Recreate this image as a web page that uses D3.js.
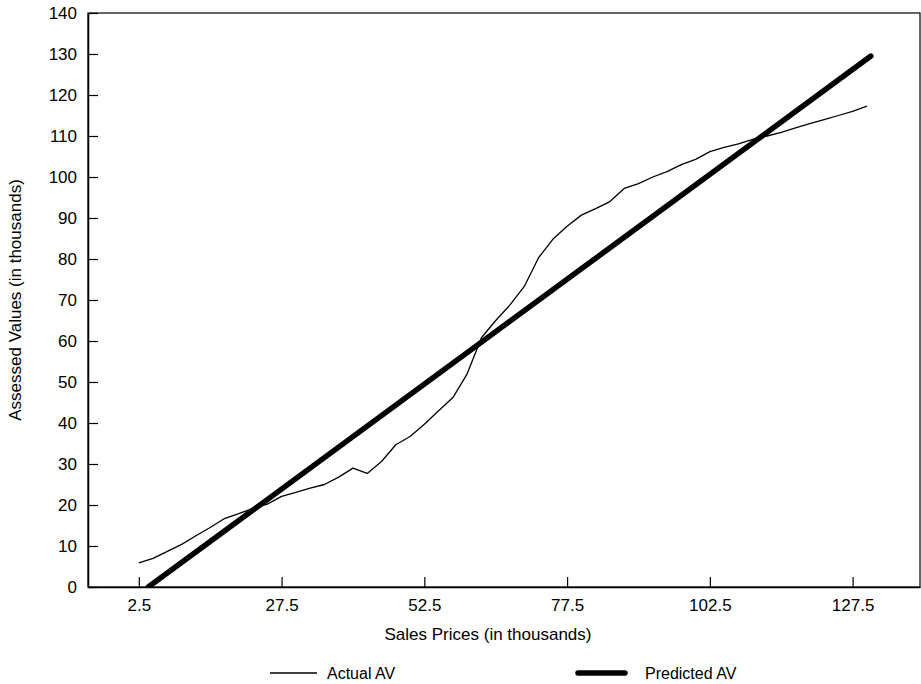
<!DOCTYPE html>
<html>
<head>
<meta charset="utf-8">
<script src="https://cdn.jsdelivr.net/npm/d3@7"></script>
<style>
  body { margin: 0; background: #fff; }
  svg { display: block; font-family: "Liberation Sans", Arial, sans-serif; }
</style>
</head>
<body>
<svg id="chart"></svg>
<script>
const width = 921, height = 684;

// actual assessed values (thousands)
const salePrices = [2.5, 5, 7.5, 10, 12.5, 15, 17.5, 20, 22.5, 25, 27.5, 30, 32.5, 35, 37.5, 40,
    42.5, 45, 47.5, 50, 52.5, 55, 57.5, 60, 62.5, 65, 67.5, 70, 72.5, 75, 77.5, 80, 82.5, 85,
    87.5, 90, 92.5, 95, 97.5, 100, 102.5, 105, 107.5, 110, 112.5, 115, 117.5, 120, 122.5, 125,
    127.5, 130];
const actualAV = [5.9, 7.0, 8.7, 10.4, 12.5, 14.5, 16.7, 17.9, 19.2, 20.2, 22.1, 23.1, 24.1, 25.0,
    26.8, 29.0, 27.7, 30.6, 34.7, 36.7, 39.7, 43.0, 46.2, 52.0, 60.8, 65.0, 68.8, 73.3, 80.3, 84.8,
    88.0, 90.7, 92.3, 94.0, 97.2, 98.4, 100.0, 101.3, 103.0, 104.3, 106.2, 107.2, 108.1, 109.2,
    110.0, 110.9, 112.0, 113.0, 114.0, 115.0, 116.0, 117.3];

// predicted AV (straight line) end points
const predX = [4.15, 130.7];
const predAV = [0, 129.5];

const xTicks = [2.5, 27.5, 52.5, 77.5, 102.5, 127.5];
const yTicks = d3.range(0, 141, 10);

const svg = d3.select("#chart")
    .attr("width", width)
    .attr("height", height);

const x = d3.scaleLinear().domain([-6.4, 139.3]).range([88, 920]);
const y = d3.scaleLinear().domain([0, 140]).range([587, 13]);

svg.append("defs").append("clipPath").attr("id", "plot-clip")
    .append("rect")
    .attr("x", x.range()[0]).attr("y", y.range()[1])
    .attr("width", x.range()[1] - x.range()[0])
    .attr("height", y.range()[0] - y.range()[1]);

// frame
svg.append("rect")
    .attr("x", x.range()[0]).attr("y", y.range()[1])
    .attr("width", x.range()[1] - x.range()[0])
    .attr("height", y.range()[0] - y.range()[1])
    .attr("fill", "none")
    .attr("stroke", "#000")
    .attr("stroke-width", 1.2);

const xAxis = svg.append("g")
    .attr("transform", `translate(0,${y.range()[0]})`)
    .call(d3.axisBottom(x).tickValues(xTicks).tickFormat(d3.format(".1f"))
        .tickSizeInner(-10).tickSizeOuter(0).tickPadding(12));

const yAxis = svg.append("g")
    .attr("transform", `translate(${x.range()[0]},0)`)
    .call(d3.axisLeft(y).tickValues(yTicks).tickFormat(d3.format("d"))
        .tickSizeInner(-10).tickSizeOuter(0).tickPadding(11));

[xAxis, yAxis].forEach(g => {
    g.select(".domain").attr("stroke-width", 1.5);
    g.selectAll(".tick line").attr("stroke-width", 1.2);
    g.selectAll("text").style("font-size", "17px").attr("fill", "#000");
});

// axis titles
svg.append("text")
    .attr("x", 488).attr("y", 640)
    .attr("text-anchor", "middle")
    .style("font-size", "17px")
    .text("Sales Prices (in thousands)");

svg.append("text")
    .attr("transform", `translate(21,${(y.range()[0] + y.range()[1]) / 2}) rotate(-90)`)
    .attr("text-anchor", "middle")
    .style("font-size", "17px")
    .text("Assessed Values (in thousands)");

const plot = svg.append("g").attr("clip-path", "url(#plot-clip)");

const line = d3.line().x(d => x(d[0])).y(d => y(d[1]));

plot.append("path")
    .datum(salePrices.map((s, i) => [s, actualAV[i]]))
    .attr("fill", "none")
    .attr("stroke", "#000")
    .attr("stroke-width", 1.3)
    .attr("stroke-linejoin", "round")
    .attr("d", line);

plot.append("path")
    .datum(predX.map((s, i) => [s, predAV[i]]))
    .attr("fill", "none")
    .attr("stroke", "#000")
    .attr("stroke-width", 5.5)
    .attr("stroke-linecap", "round")
    .attr("d", line);

// legend
const legend = [
    {label: "Actual AV", x: 270, w: 1.3},
    {label: "Predicted AV", x: 578, w: 5.5}
];
const lg = svg.append("g").selectAll("g").data(legend).join("g")
    .attr("transform", d => `translate(${d.x},673)`);
lg.append("line")
    .attr("x1", 0).attr("x2", 47)
    .attr("stroke", "#000")
    .attr("stroke-width", d => d.w)
    .attr("stroke-linecap", d => d.w > 2 ? "round" : "butt");
lg.append("text")
    .attr("x", d => d.w > 2 ? 67 : 57)
    .attr("dy", "0.35em")
    .style("font-size", "16px")
    .text(d => d.label);
</script>
</body>
</html>
